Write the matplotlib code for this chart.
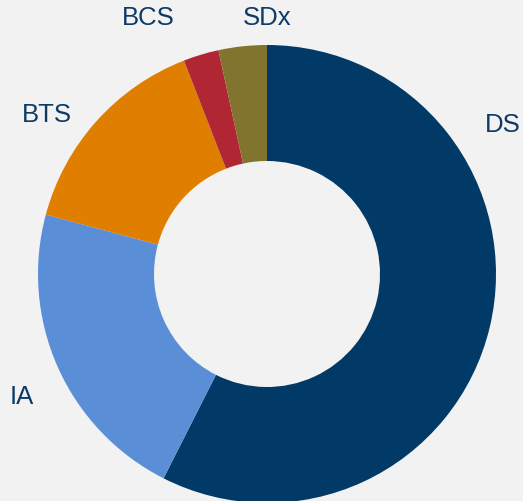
import matplotlib.pyplot as plt

labels = ['DS', 'IA', 'BTS', 'BCS', 'SDx']
values = [57.4, 21.7, 14.9, 2.5, 3.4]
colors = ['#013A66', '#5A8FD8', '#E07E00', '#B02632', '#80742F']

# label centres in pixels (x, y from top)
label_pos = {'DS': (503, 125), 'IA': (22, 397), 'BTS': (47, 115),
             'BCS': (148, 18), 'SDx': (267, 18)}

W, H = 523, 501
fig = plt.figure(figsize=(W / 100, H / 100), dpi=100, facecolor='#F2F2F2')
ax = fig.add_axes([0, 0, 1, 1])
ax.set_facecolor('#F2F2F2')

ax.pie(values, colors=colors, startangle=90, counterclock=False,
       center=(267, H - 274), radius=229, frame=True,
       wedgeprops=dict(width=229 - 113, linewidth=0))
ax.set_xlim(0, W)
ax.set_ylim(0, H)
ax.set_aspect('equal')
ax.axis('off')

for name in labels:
    x, y = label_pos[name]
    ax.text(x, H - y, name, ha='center', va='center', fontsize=18.5,
            color='#0D3B66', family='Liberation Sans')

fig.savefig('out.png', dpi=100, facecolor='#F2F2F2')
